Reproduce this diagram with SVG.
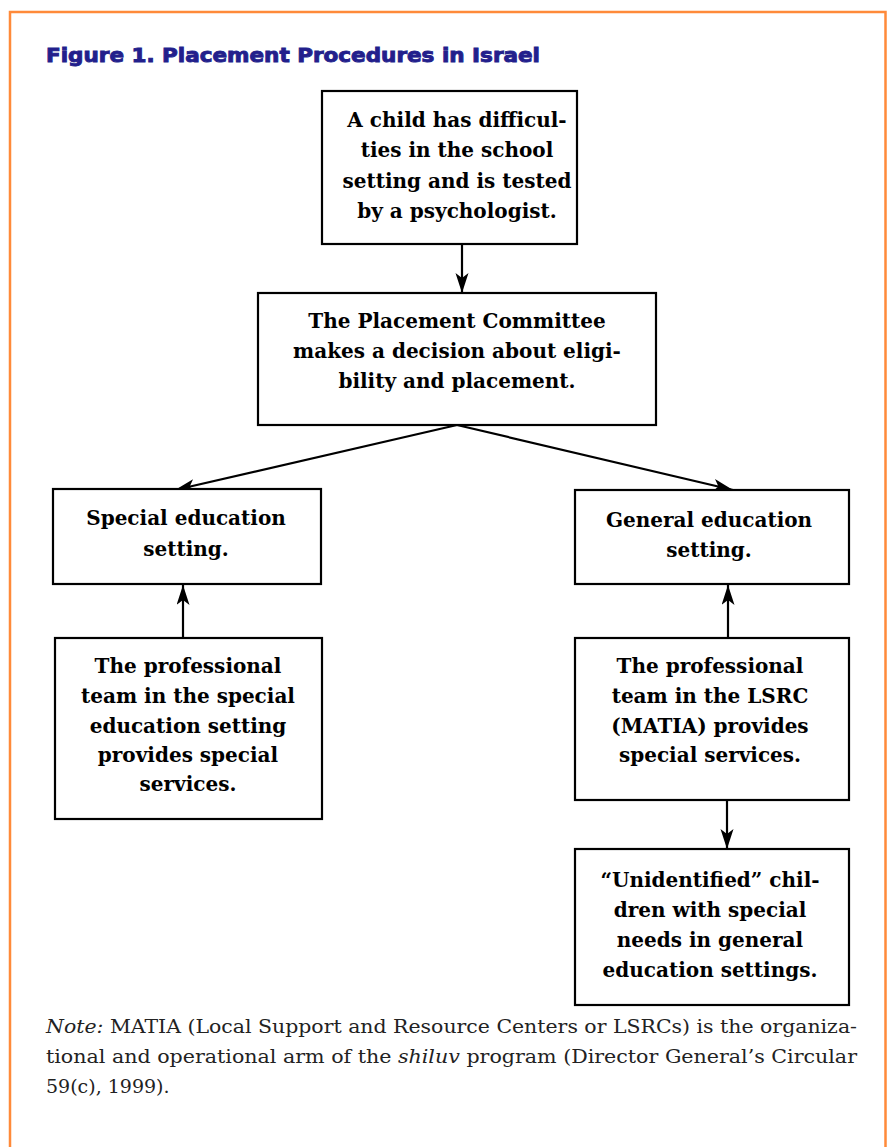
<svg xmlns="http://www.w3.org/2000/svg" width="888" height="1147" viewBox="0 0 888 1147">
<style>
.box{fill:#fff;stroke:#000;stroke-width:2.2}
.bt{font-family:"DejaVu Serif","Liberation Serif",serif;font-weight:bold;font-size:20px;fill:#000;text-anchor:middle}
.conn{stroke:#000;stroke-width:2.2;fill:none}
.note{font-family:"DejaVu Serif","Liberation Serif",serif;font-size:19px;fill:#222}
</style>
<defs>
<marker id="ah" markerUnits="userSpaceOnUse" markerWidth="22" markerHeight="14" refX="20" refY="6.5" orient="auto">
<path d="M0,0 L20,6.5 L0,13 L5,6.5 Z" fill="#000"/>
</marker>
</defs>
<rect x="0" y="0" width="888" height="1147" fill="#fff"/>
<path d="M10,1150 V12 H885.5 V1150" fill="none" stroke="#FF8A3A" stroke-width="2.5"/>
<text x="46" y="62" font-family="'DejaVu Sans', sans-serif" font-weight="bold" font-size="19" fill="#231f8c" stroke="#231f8c" stroke-width="0.9" textLength="494" lengthAdjust="spacingAndGlyphs">Figure 1. Placement Procedures in Israel</text>

<g id="connectors">
<line class="conn" x1="462" y1="244" x2="462" y2="293" marker-end="url(#ah)"/>
<line class="conn" x1="457" y1="425" x2="175" y2="490" marker-end="url(#ah)"/>
<line class="conn" x1="457" y1="425" x2="733" y2="490" marker-end="url(#ah)"/>
<line class="conn" x1="183" y1="638" x2="183" y2="585" marker-end="url(#ah)"/>
<line class="conn" x1="728" y1="638" x2="728" y2="585" marker-end="url(#ah)"/>
<line class="conn" x1="727" y1="800" x2="727" y2="849" marker-end="url(#ah)"/>
</g>

<g id="n1">
<rect class="box" x="322" y="91" width="255" height="153"/>
<text class="bt" x="457" y="127">A child has difficul-</text>
<text class="bt" x="457" y="157">ties in the school</text>
<text class="bt" x="457" y="188">setting and is tested</text>
<text class="bt" x="457" y="218">by a psychologist.</text>
</g>
<g id="n2">
<rect class="box" x="258" y="293" width="398" height="132"/>
<text class="bt" x="457" y="328">The Placement Committee</text>
<text class="bt" x="457" y="358">makes a decision about eligi-</text>
<text class="bt" x="457" y="388">bility and placement.</text>
</g>
<g id="n3">
<rect class="box" x="53" y="489" width="268" height="95"/>
<text class="bt" x="186" y="525">Special education</text>
<text class="bt" x="186" y="556">setting.</text>
</g>
<g id="n4">
<rect class="box" x="575" y="490" width="274" height="94"/>
<text class="bt" x="709" y="527">General education</text>
<text class="bt" x="709" y="557">setting.</text>
</g>
<g id="n5">
<rect class="box" x="55" y="638" width="267" height="181"/>
<text class="bt" x="188" y="673">The professional</text>
<text class="bt" x="188" y="703">team in the special</text>
<text class="bt" x="188" y="733">education setting</text>
<text class="bt" x="188" y="762">provides special</text>
<text class="bt" x="188" y="791">services.</text>
</g>
<g id="n6">
<rect class="box" x="575" y="638" width="274" height="162"/>
<text class="bt" x="710" y="673">The professional</text>
<text class="bt" x="710" y="703">team in the LSRC</text>
<text class="bt" x="710" y="733">(MATIA) provides</text>
<text class="bt" x="710" y="762">special services.</text>
</g>
<g id="n7">
<rect class="box" x="575" y="849" width="274" height="156"/>
<text class="bt" x="710" y="887">“Unidentified” chil-</text>
<text class="bt" x="710" y="917">dren with special</text>
<text class="bt" x="710" y="947">needs in general</text>
<text class="bt" x="710" y="977">education settings.</text>
</g>

<g id="note">
<text class="note" x="46" y="1033" textLength="811" lengthAdjust="spacingAndGlyphs"><tspan font-style="italic">Note:</tspan>  MATIA (Local Support and Resource Centers or LSRCs) is the organiza-</text>
<text class="note" x="46" y="1063" textLength="811" lengthAdjust="spacingAndGlyphs">tional and operational arm of the <tspan font-style="italic">shiluv</tspan> program (Director General’s Circular</text>
<text class="note" x="46" y="1093">59(c), 1999).</text>
</g>
</svg>
